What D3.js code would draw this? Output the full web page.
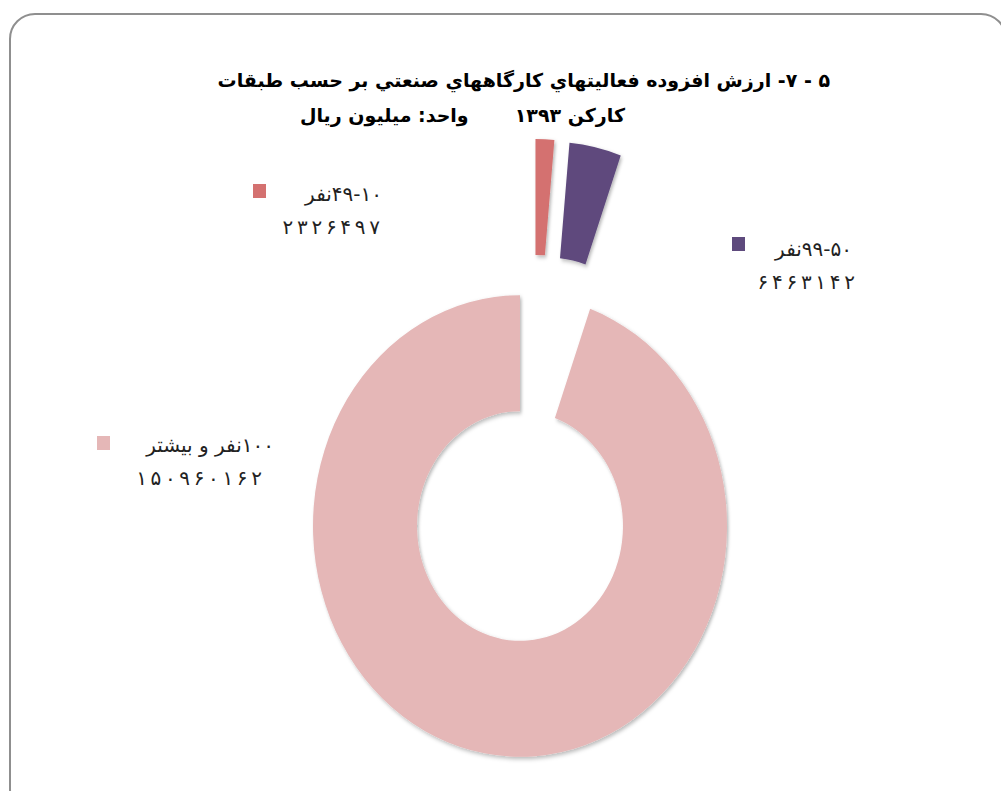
<!DOCTYPE html>
<html><head><meta charset="utf-8">
<script src="https://cdn.jsdelivr.net/npm/d3@7"></script>
<style>html,body{margin:0;padding:0;background:#fff;}svg{display:block;}</style>
</head><body>
<svg id="chart" width="1001" height="791"></svg>
<script>
// ---- data ----
const categories = ["۱۰\u200F-۴۹نفر", "۵۰\u200F-۹۹نفر", "۱۰۰نفر و بیشتر"];
const values = [2326497, 6463142, 150960162];
const valueLabels = ["۲۳۲۶۴۹۷", "۶۴۶۳۱۴۲", "۱۵۰۹۶۰۱۶۲"];
const colors = ["#D47170", "#5E4A7D", "#E5B7B7"];
const exploded = [true, true, false];
const titleLines = ["۵ - ۷- ارزش افزوده فعاليتهاي کارگاههاي صنعتي بر حسب طبقات", "کارکن ۱۳۹۳", "واحد: ميليون ريال"];

// ---- layout ----
const svg = d3.select("#chart");
svg.append("rect").attr("x", 10).attr("y", 14).attr("width", 996).attr("height", 800)
  .attr("rx", 25).attr("ry", 25).attr("fill", "#fff").attr("stroke", "#8f8f8f").attr("stroke-width", 2);

const defs = svg.append("defs");
const f = defs.append("filter").attr("id", "sh").attr("x", "-20%").attr("y", "-20%").attr("width", "140%").attr("height", "140%");
f.append("feDropShadow").attr("dx", 1.5).attr("dy", 2).attr("stdDeviation", 1.8)
  .attr("flood-color", "#000").attr("flood-opacity", 0.28);

const cx = 520, cy = 526, rOuter = 207, rInner = 103, yScale = 1.115, explode = 141;
const pie = d3.pie().sort(null).value(d => d).startAngle(0).endAngle(2 * Math.PI);
const arcs = pie(values);
const arc = d3.arc().innerRadius(rInner).outerRadius(rOuter);

const g = svg.append("g").attr("transform", `translate(${cx},${cy}) scale(1,${yScale})`);
g.selectAll("path").data(arcs).enter().append("path")
  .attr("d", arc)
  .attr("fill", (d, i) => colors[i])
  .attr("filter", "url(#sh)")
  .attr("transform", (d, i) => {
    if (!exploded[i]) return null;
    const a = Math.max((d.startAngle + d.endAngle) / 2, 0.11);
    return `translate(${explode * Math.sin(a)},${-explode * Math.cos(a)})`;
  });

// ---- title ----
const title = svg.append("g").attr("font-family", "DejaVu Sans, sans-serif").attr("font-weight", "bold")
  .attr("font-size", 19).attr("fill", "#000");
const titlePos = [[830, 87, "start"], [625, 122, "start"], [300, 122, "end"]];
title.selectAll("text").data(titleLines).enter().append("text")
  .attr("x", (d, i) => titlePos[i][0]).attr("y", (d, i) => titlePos[i][1])
  .attr("direction", "rtl").attr("text-anchor", (d, i) => titlePos[i][2])
  .text(d => d);

// ---- legend labels ----
const legendPos = [[382, 201, 253, 184, 380], [852, 256, 732, 237, 855], [274, 452, 97, 436, 262]];
const lg = svg.append("g").attr("font-family", "DejaVu Sans, sans-serif").attr("font-size", 20).attr("fill", "#222");
categories.forEach((c, i) => {
  const p = legendPos[i];
  lg.append("rect").attr("x", p[2]).attr("y", p[3]).attr("width", 13).attr("height", 14).attr("fill", colors[i]);
  lg.append("text").attr("x", p[0]).attr("y", p[1]).attr("direction", "rtl").attr("text-anchor", "start").text(c);
  const n = valueLabels[i].length;
  lg.append("text").attr("x", p[4]).attr("y", p[1] + 33).attr("direction", "ltr").attr("text-anchor", "end")
    .attr("textLength", n * 14.2 - 2).attr("lengthAdjust", "spacing").text(valueLabels[i]);
});
</script>
</body></html>
